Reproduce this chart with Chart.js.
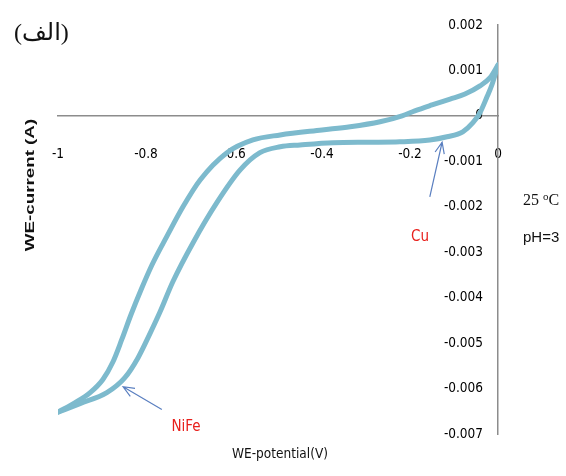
<!DOCTYPE html>
<html>
<head>
<meta charset="utf-8">
<script src="https://cdn.jsdelivr.net/npm/chart.js@4.4.0/dist/chart.umd.min.js"></script>
<style>
  body { margin: 0; background: #fff; }
  #wrap { position: relative; width: 566px; height: 476px; overflow: hidden; }
  #grafico { position: absolute; left: 0; top: 0; }
  .nota { position: absolute; white-space: nowrap; line-height: 1; }
</style>
</head>
<body>
<div id="wrap">
  <canvas id="grafico" width="566" height="476"></canvas>
  <div class="nota" dir="rtl" style="left:14px; top:18px; font:24px 'Liberation Serif','DejaVu Sans',serif; color:#111;">(الف)</div>
  <div class="nota" style="left:30px; top:185px; transform:translate(-50%,-50%) rotate(-90deg) scaleX(1.5); font:bold 12.5px 'Liberation Sans',Arial,sans-serif; color:#111;">WE-current (A)</div>
  <div class="nota" style="left:280px; top:453px; transform:translate(-50%,-50%); font:13.5px 'DejaVu Sans Condensed','Liberation Sans',sans-serif; color:#111;">WE-potential(V)</div>
  <div class="nota" style="left:523px; top:190px; font:16px 'Liberation Serif','Times New Roman',serif; color:#111;">25 <sup style="font-size:11px; vertical-align:5px;">o</sup>C</div>
  <div class="nota" style="left:523px; top:228px; font:15px 'Liberation Sans',Arial,sans-serif; color:#111;">pH=3</div>
  <div class="nota" style="left:420px; top:236px; transform:translate(-50%,-50%); font:15px 'DejaVu Sans Condensed','Liberation Sans',sans-serif; color:#e8201c;">Cu</div>
  <div class="nota" style="left:186px; top:426px; transform:translate(-50%,-50%); font:15px 'DejaVu Sans Condensed','Liberation Sans',sans-serif; color:#e8201c;">NiFe</div>
</div>
<script>
// ramo inferiore (scansione catodica), potenziale crescente
const potenzialeInferiore = [-1.0, -0.95, -0.889, -0.848, -0.818, -0.791, -0.768, -0.739, -0.693, -0.639, -0.586, -0.541,
  -0.495, -0.45, -0.375, -0.291, -0.223, -0.155, -0.116, -0.080, -0.057, -0.041, -0.025, -0.014, 0];
const correnteInferiore = [-0.00652, -0.00633, -0.00609, -0.00576, -0.00532, -0.00479, -0.00431, -0.00365, -0.00279, -0.00191,
  -0.00119, -0.00081, -0.00068, -0.00064, -0.00059, -0.00058, -0.00057, -0.00053, -0.00046, -0.00035, -0.00015, 0.00007,
  0.00042, 0.00068, 0.00112];

// ramo superiore (scansione di ritorno), potenziale crescente
const potenzialeSuperiore = [-1.0, -0.961, -0.927, -0.898, -0.875, -0.855, -0.834, -0.811, -0.786, -0.752, -0.716, -0.677,
  -0.616, -0.557, -0.495, -0.4, -0.336, -0.268, -0.218, -0.189, -0.150, -0.109, -0.075, -0.041, -0.018, 0];
const correnteSuperiore = [-0.00652, -0.00631, -0.00609, -0.0058, -0.00541, -0.00492, -0.00437, -0.00382, -0.00327, -0.00264,
  -0.002, -0.00141, -0.00081, -0.00053, -0.00042, -0.00031, -0.00024, -0.00013, 0, 0.00011, 0.00024, 0.00037,
  0.00048, 0.00066, 0.00084, 0.00112];

// etichette degli assi
const ticksX = [-1, -0.8, -0.6, -0.4, -0.2, 0];
const etichetteX = ["-1", "-0.8", "-0.6", "-0.4", "-0.2", "0"];
const ticksY = [0.002, 0.001, 0, -0.001, -0.002, -0.003, -0.004, -0.005, -0.006, -0.007];
const etichetteY = ["0.002", "0.001", "0", "-0.001", "-0.002", "-0.003", "-0.004", "-0.005", "-0.006", "-0.007"];

// frecce (coda -> punta) in coordinate dei dati
const frecceCoda = [[-0.155, -0.00178], [-0.764, -0.00646]];
const freccePunta = [[-0.127, -0.00058], [-0.852, -0.00596]];

function punti(xs, ys) {
  return xs.map((x, i) => ({ x: x, y: ys[i] }));
}

const pluginFrecce = {
  id: "frecce",
  afterDatasetsDraw(chart) {
    let ctx = chart.ctx,
      sx = chart.scales.x,
      sy = chart.scales.y;
    ctx.save();
    ctx.strokeStyle = "#5a7fc0";
    ctx.lineWidth = 1.2;
    for (let i = 0; i < frecceCoda.length; i++) {
      let x0 = sx.getPixelForValue(frecceCoda[i][0]),
        y0 = sy.getPixelForValue(frecceCoda[i][1]),
        x1 = sx.getPixelForValue(freccePunta[i][0]),
        y1 = sy.getPixelForValue(freccePunta[i][1]),
        ang = Math.atan2(y1 - y0, x1 - x0),
        l = 12;
      ctx.beginPath();
      ctx.moveTo(x0, y0);
      ctx.lineTo(x1, y1);
      ctx.moveTo(x1 - l * Math.cos(ang - 0.4), y1 - l * Math.sin(ang - 0.4));
      ctx.lineTo(x1, y1);
      ctx.lineTo(x1 - l * Math.cos(ang + 0.4), y1 - l * Math.sin(ang + 0.4));
      ctx.stroke();
    }
    ctx.restore();
  },
};

const fontTick = { family: "'DejaVu Sans Condensed', 'Liberation Sans', sans-serif", size: 13.5 };

const stileCurva = {
  showLine: true,
  borderColor: "#7dbacd",
  borderWidth: 5,
  pointRadius: 0,
  cubicInterpolationMode: "monotone",
  borderCapStyle: "round",
  borderJoinStyle: "round",
};

new Chart(document.getElementById("grafico").getContext("2d"), {
  type: "scatter",
  data: {
    datasets: [
      Object.assign({ data: punti(potenzialeInferiore, correnteInferiore) }, stileCurva),
      Object.assign({ data: punti(potenzialeSuperiore, correnteSuperiore) }, stileCurva),
    ],
  },
  options: {
    responsive: false,
    animation: false,
    devicePixelRatio: 1,
    layout: { padding: { left: 58, right: 68, top: 25, bottom: 42 } },
    plugins: { legend: { display: false }, tooltip: { enabled: false } },
    scales: {
      x: {
        type: "linear",
        min: -1,
        max: 0,
        position: { y: 0 },
        afterBuildTicks: (s) => { s.ticks = ticksX.map((v) => ({ value: v })); },
        ticks: {
          font: fontTick,
          color: "#000",
          padding: 23,
          maxRotation: 0,
          autoSkip: false,
          callback: (v) => etichetteX[ticksX.indexOf(v)],
        },
        grid: { display: false },
        border: { display: true, color: "#8c8c8c", width: 1.5 },
      },
      // asse verticale: solo la linea in x = 0
      y: {
        type: "linear",
        min: -0.007,
        max: 0.002,
        position: { x: 0 },
        ticks: { display: false },
        grid: { display: false },
        border: { display: true, color: "#8c8c8c", width: 1.5 },
      },
      // etichette dell'asse verticale, un po' a sinistra della linea
      yEtichette: {
        type: "linear",
        axis: "y",
        min: -0.007,
        max: 0.002,
        position: { x: -0.034 },
        afterBuildTicks: (s) => { s.ticks = ticksY.map((v) => ({ value: v })); },
        ticks: {
          font: fontTick,
          color: "#000",
          autoSkip: false,
          callback: (v) => etichetteY[ticksY.indexOf(v)],
        },
        grid: { display: false },
        border: { display: false },
      },
    },
  },
  plugins: [pluginFrecce],
});
</script>
</body>
</html>
